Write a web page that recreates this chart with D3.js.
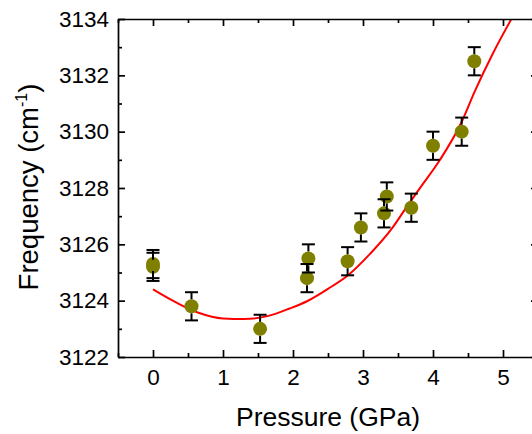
<!DOCTYPE html>
<html>
<head>
<meta charset="utf-8">
<script src="https://cdn.jsdelivr.net/npm/d3@7"></script>
<style>
  body { margin: 0; background: #fff; }
  svg { display: block; font-family: "Liberation Sans", Arial, sans-serif; }
  .axis path, .axis line { stroke: #000; stroke-width: 1.7; }
  .axis text { font-size: 22.5px; fill: #000; font-family: "Liberation Sans", Arial, sans-serif; }
</style>
</head>
<body>
<svg id="chart"></svg>
<script>
// measured points
const pressure  = [0, 0, 0.55, 1.53, 2.2, 2.22, 2.78, 2.97, 3.3, 3.34, 3.69, 4.0, 4.41, 4.59];
const frequency = [3125.3, 3125.2, 3123.8, 3123.0, 3124.8, 3125.5, 3125.4, 3126.6, 3127.1, 3127.7, 3127.3, 3129.5, 3130.0, 3132.5];
const freqError = [0.5, 0.5, 0.5, 0.5, 0.5, 0.5, 0.5, 0.5, 0.5, 0.5, 0.5, 0.5, 0.5, 0.5];

// red fit line
const fitPressure  = [0, 0.35, 0.65, 1.0, 1.3, 1.65, 1.95, 2.2, 2.5, 2.8, 3.1, 3.4, 3.6, 3.8, 4.1, 4.4, 4.6, 4.85, 5.12];
const fitFrequency = [3124.4, 3123.91, 3123.57, 3123.37, 3123.35, 3123.46, 3123.72, 3123.98, 3124.42, 3124.93, 3125.66, 3126.52, 3127.24, 3127.95, 3129.0, 3130.3, 3131.45, 3132.75, 3134.0];

// ticks
const xMajor = [0, 1, 2, 3, 4, 5];
const xMinor = [-0.5, 0.5, 1.5, 2.5, 3.5, 4.5, 5.5];
const yMajor = [3122, 3124, 3126, 3128, 3130, 3132, 3134];
const yMinor = [3123, 3125, 3127, 3129, 3131, 3133];

const W = 532, H = 434;
const plot = { left: 118, right: 538, top: 19, bottom: 357 };

const svg = d3.select('#chart')
    .attr('width', W)
    .attr('height', H);

const xScale = d3.scaleLinear().domain([-0.5, 5.5]).range([plot.left, plot.right]);
const yScale = d3.scaleLinear().domain([3122, 3134]).range([plot.bottom, plot.top]);

svg.append('clipPath').attr('id', 'clip')
  .append('rect')
    .attr('x', plot.left).attr('y', plot.top)
    .attr('width', plot.right - plot.left)
    .attr('height', plot.bottom - plot.top);

// fit line
const fitData = fitPressure.map((p, i) => ({ p: p, f: fitFrequency[i] }));
const line = d3.line()
    .x(d => xScale(d.p))
    .y(d => yScale(d.f))
    .curve(d3.curveMonotoneX);

svg.append('path')
    .datum(fitData)
    .attr('clip-path', 'url(#clip)')
    .attr('fill', 'none')
    .attr('stroke', '#ff0000')
    .attr('stroke-width', 2)
    .attr('d', line);

// points + error bars (bars stop at the symbol edge)
const pts = pressure.map((p, i) => ({ p: p, f: frequency[i], e: freqError[i] }));
const r = 7, cap = 6.5;

svg.append('g').selectAll('circle')
    .data(pts)
    .join('circle')
    .attr('cx', d => xScale(d.p))
    .attr('cy', d => yScale(d.f))
    .attr('r', r)
    .attr('fill', '#808000');

const bars = svg.append('g')
    .attr('stroke', '#000')
    .attr('stroke-width', 2)
    .selectAll('g')
    .data(pts)
    .join('g');

bars.append('line')
    .attr('x1', d => xScale(d.p)).attr('x2', d => xScale(d.p))
    .attr('y1', d => yScale(d.f + d.e)).attr('y2', d => yScale(d.f) - r);
bars.append('line')
    .attr('x1', d => xScale(d.p)).attr('x2', d => xScale(d.p))
    .attr('y1', d => yScale(d.f) + r).attr('y2', d => yScale(d.f - d.e));
bars.append('line')
    .attr('x1', d => xScale(d.p) - cap).attr('x2', d => xScale(d.p) + cap)
    .attr('y1', d => yScale(d.f + d.e)).attr('y2', d => yScale(d.f + d.e));
bars.append('line')
    .attr('x1', d => xScale(d.p) - cap).attr('x2', d => xScale(d.p) + cap)
    .attr('y1', d => yScale(d.f - d.e)).attr('y2', d => yScale(d.f - d.e));

// axes, ticks pointing inwards
function addAxis(axisFn, scale, ticks, size, label, transform) {
    const a = axisFn(scale)
        .tickValues(ticks)
        .tickSizeInner(-size)
        .tickSizeOuter(0)
        .tickPadding(axisFn === d3.axisLeft ? 9 : 12)
        .tickFormat(label ? d3.format('d') : '');
    return svg.append('g')
        .attr('class', 'axis')
        .attr('transform', transform)
        .call(a);
}

addAxis(d3.axisBottom, xScale, xMajor, 7, true, `translate(0,${plot.bottom})`);
addAxis(d3.axisBottom, xScale, xMinor, 4, false, `translate(0,${plot.bottom})`).select('.domain').remove();
addAxis(d3.axisTop, xScale, xMajor, 7, false, `translate(0,${plot.top})`);
addAxis(d3.axisTop, xScale, xMinor, 4, false, `translate(0,${plot.top})`).select('.domain').remove();
addAxis(d3.axisLeft, yScale, yMajor, 7, true, `translate(${plot.left},0)`);
addAxis(d3.axisLeft, yScale, yMinor, 4, false, `translate(${plot.left},0)`).select('.domain').remove();
addAxis(d3.axisRight, yScale, yMajor, 7, false, `translate(${plot.right},0)`);
addAxis(d3.axisRight, yScale, yMinor, 4, false, `translate(${plot.right},0)`).select('.domain').remove();

// axis titles
svg.append('text')
    .attr('x', (plot.left + plot.right) / 2)
    .attr('y', 426)
    .attr('text-anchor', 'middle')
    .attr('font-size', 26.5)
    .text('Pressure (GPa)');

const yTitle = svg.append('text')
    .attr('transform', `translate(38,187) rotate(-90)`)
    .attr('text-anchor', 'middle')
    .attr('font-size', 27.5);
yTitle.append('tspan').text('Frequency (cm');
yTitle.append('tspan').attr('font-size', 16).attr('dy', -11).text('-1');
yTitle.append('tspan').attr('dy', 11).text(')');
</script>
</body>
</html>
